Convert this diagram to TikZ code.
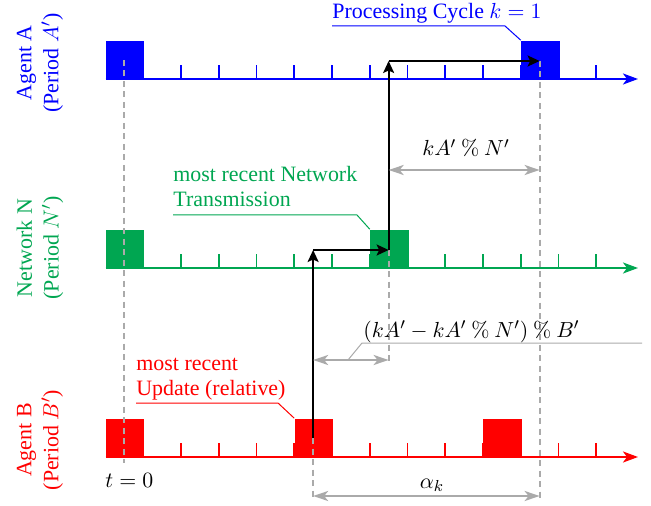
\documentclass[tikz,border=0pt]{standalone}
\usepackage[no-math]{fontspec}
\setmainfont{Liberation Serif}
\usetikzlibrary{arrows.meta}
\definecolor{cA}{RGB}{0,0,255}
\definecolor{cN}{RGB}{0,166,81}
\definecolor{cB}{RGB}{255,0,0}
\definecolor{cG}{RGB}{170,170,170}
\begin{document}
\begin{tikzpicture}[x=1bp,y=-1bp,
  every node/.style={font=\fontsize{11}{13.5}\selectfont, scale=2, inner sep=0pt},
  axisline/.style={line width=2bp, -{Stealth[length=15bp,width=11bp,inset=4bp]}},
  tickline/.style={line width=1.8bp},
  slot/.style={minimum width=19.25bp, minimum height=19bp, anchor=south west, inner sep=0pt, draw=none},
  guide/.style={cG, line width=2bp, dash pattern=on 6bp off 4.5bp},
  flow/.style={black, line width=1.9bp, -{Stealth[length=12bp,width=11bp,inset=2.5bp]}},
  dim/.style={cG, line width=2.2bp, {Stealth[length=15bp,width=10bp,inset=4bp]}-{Stealth[length=15bp,width=10bp,inset=4bp]}},
  callout/.style={line width=1bp},
]
\useasboundingbox (0,0) rectangle (651,506);
\def\xo{105.5}
\def\un{37.75}
% ---------- axes ----------
\coordinate (A0) at (\xo,79);  \coordinate (A1) at (638,79);
\coordinate (N0) at (\xo,268); \coordinate (N1) at (638,268);
\coordinate (B0) at (\xo,457); \coordinate (B1) at (638,457);
\draw[cA, axisline] (A0) -- (A1);
\draw[cN, axisline] (N0) -- (N1);
\draw[cB, axisline] (B0) -- (B1);
\foreach \n in {1,...,13}{
  \draw[cA, tickline] ({\xo+\n*\un},79) -- ++(0,-14);
  \draw[cN, tickline] ({\xo+\n*\un},268) -- ++(0,-14);
  \draw[cB, tickline] ({\xo+\n*\un},457) -- ++(0,-14);
}
% ---------- slots ----------
\node[slot, fill=cA] (Abox0) at (\xo,79) {};
\node[slot, fill=cA] (Abox1) at ({\xo+11*\un},79) {};
\node[slot, fill=cN] (Nbox0) at (\xo,268) {};
\node[slot, fill=cN] (Nbox1) at ({\xo+7*\un},268) {};
\node[slot, fill=cB] (Bbox0) at (\xo,457) {};
\node[slot, fill=cB] (Bbox1) at ({\xo+5*\un},457) {};
\node[slot, fill=cB] (Bbox2) at ({\xo+10*\un},457) {};
% ---------- row labels ----------
\node[cA, rotate=90, align=center] (labA) at (40,63) {Agent A\\(Period $A'$)};
\node[cN, rotate=90, align=center] (labN) at (40,248) {Network N\\(Period $N'$)};
\node[cB, rotate=90, align=center] (labB) at (40,440) {Agent B\\(Period $B'$)};
% ---------- guides ----------
\coordinate (gA1) at ({\xo+0.5*\un},60);  \coordinate (gA2) at ({\xo+0.5*\un},463);
\coordinate (gK1) at ({\xo+11.5*\un},61); \coordinate (gK2) at ({\xo+11.5*\un},502);
\coordinate (gN1) at ({\xo+7.5*\un},250); \coordinate (gN2) at ({\xo+7.5*\un},363);
\coordinate (gB1) at ({\xo+5.5*\un},438); \coordinate (gB2) at ({\xo+5.5*\un},500);
\draw[guide] (gA1) -- (gA2);
\draw[guide] (gK1) -- (gK2);
\draw[guide] (gN1) -- (gN2);
\draw[guide] (gB1) -- (gB2);
% ---------- flow ----------
\coordinate (f0) at ({\xo+5.5*\un},438);
\coordinate (f1) at ({\xo+5.5*\un},250);
\coordinate (f2) at ({\xo+7.5*\un},250);
\coordinate (f3) at ({\xo+7.5*\un},61);
\coordinate (f4) at ({\xo+11.5*\un},61);
\draw[flow] (f0) -- (f1);
\draw[flow] (f1) -- (f2);
\draw[flow] (f2) -- (f3);
\draw[flow] (f3) -- (f4);
% ---------- dimensions ----------
\coordinate (d1a) at ({\xo+7.5*\un},170); \coordinate (d1b) at ({\xo+11.5*\un},170);
\draw[dim] (d1a) -- (d1b);
\node[anchor=base] (d1lab) at (466,156) {$kA' \mathbin{\%} N'$};
\coordinate (d2a) at ({\xo+5.5*\un},360); \coordinate (d2b) at ({\xo+7.5*\un},360);
\draw[dim] (d2a) -- (d2b);
\node[anchor=base west] (d2lab) at (363,337) {$(kA' - kA' \mathbin{\%} N') \mathbin{\%} B'$};
\coordinate (d2m) at (348,360); \coordinate (d2u) at (362,343); \coordinate (d2e) at (642,343);
\draw[cG, callout] (d2m) -- (d2u) -- (d2e);
\coordinate (d3a) at ({\xo+5.5*\un},496); \coordinate (d3b) at ({\xo+11.5*\un},496);
\draw[dim] (d3a) -- (d3b);
\node[anchor=base] (d3lab) at (432,488) {$\alpha_k$};
\node[anchor=base west] (t0) at (105,487) {$t=0$};
% ---------- callouts ----------
\node[cA, anchor=base west] (pc) at (332,19) {Processing Cycle $k=1$};
\coordinate (pcL) at (332,26); \coordinate (pcR) at (505,26);
\draw[cA, callout] (pcL) -- (pcR) -- (Abox1.north west);
\node[cN, anchor=base west] (nt1) at (173,182) {most recent Network};
\node[cN, anchor=base west] (nt2) at (173,207) {Transmission};
\coordinate (ntL) at (173,215); \coordinate (ntR) at (357,215);
\draw[cN, callout] (ntL) -- (ntR) -- (Nbox1.north west);
\node[cB, anchor=base west] (ut1) at (136,370) {most recent};
\node[cB, anchor=base west] (ut2) at (136,395) {Update (relative)};
\coordinate (utL) at (136,403); \coordinate (utR) at (278,403);
\draw[cB, callout] (utL) -- (utR) -- (Bbox1.north west);
\end{tikzpicture}
\end{document}
